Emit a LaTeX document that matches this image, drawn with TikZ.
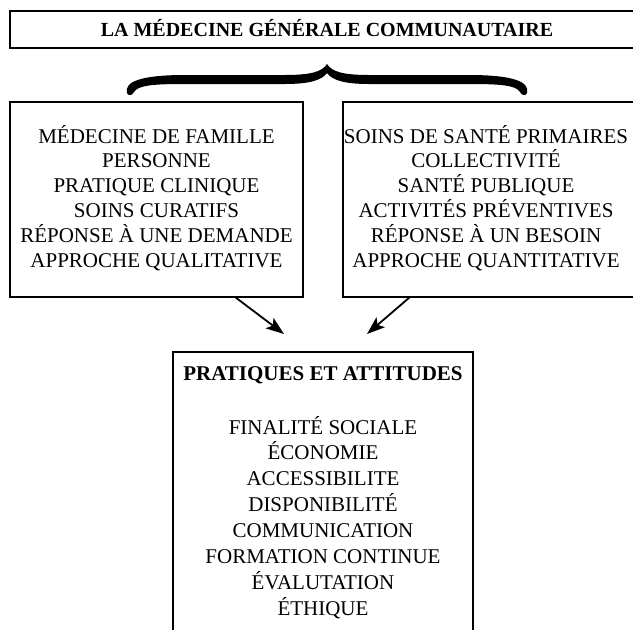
\documentclass[tikz,border=0pt]{standalone}
\usepackage{fontspec}
\setmainfont{Liberation Serif}
\usetikzlibrary{arrows.meta}
\begin{document}
\begin{tikzpicture}[x=1pt,y=-1pt,
  box/.style={draw, line width=1.2pt, inner sep=0pt, outer sep=0pt, anchor=north west},
  txt/.style={font=\fontsize{21}{25}\selectfont, anchor=base, inner sep=0pt},
  btxt/.style={font=\fontsize{21}{25}\selectfont\bfseries, anchor=base, inner sep=0pt},
  arr/.style={-{Stealth[length=18pt,width=13pt,inset=4pt]}, line width=1.8pt}]
\useasboundingbox (0,0) rectangle (633,630);
\clip (0,0) rectangle (633,630);
% boxes
\node[box, line width=2pt, minimum width=640pt, minimum height=37pt] (top) at (10,11) {};
\node[box, minimum width=293pt, minimum height=195pt] (lbox) at (10,102) {};
\node[box, minimum width=300pt, minimum height=195pt] (rbox) at (343,102) {};
\node[box, minimum width=300pt, minimum height=300pt] (bbox) at (173,352) {};
% title
\node[btxt, font=\fontsize{20}{25}\selectfont\bfseries] (title) at (327,36) {LA MÉDECINE GÉNÉRALE COMMUNAUTAIRE};
% brace
\fill (127,93) .. controls (124,82) and (140,75) .. (185,75) -- (285,75)
  .. controls (310,75) and (322,72) .. (327,64)
  .. controls (332,72) and (344,75) .. (369,75) -- (469,75)
  .. controls (514,75) and (530,82) .. (527,93)
  .. controls (526,96) and (522,96) .. (520,92)
  .. controls (516,85) and (499,84) .. (469,84) -- (369,84)
  .. controls (344,84) and (332,80) .. (327,73)
  .. controls (322,80) and (310,84) .. (285,84) -- (185,84)
  .. controls (155,84) and (138,85) .. (134,92)
  .. controls (132,96) and (128,96) .. (127,93) -- cycle;
% left texts
\foreach \t [count=\i] in {MÉDECINE DE FAMILLE, PERSONNE, PRATIQUE CLINIQUE, SOINS CURATIFS, RÉPONSE À UNE DEMANDE, APPROCHE QUALITATIVE}
  \node[txt] (l\i) at (156.5,{143+24.9*(\i-1)}) {\t};
% right texts
\foreach \t [count=\i] in {SOINS DE SANTÉ PRIMAIRES, COLLECTIVITÉ, SANTÉ PUBLIQUE, ACTIVITÉS PRÉVENTIVES, RÉPONSE À UN BESOIN, APPROCHE QUANTITATIVE}
  \node[txt] (r\i) at (486,{143+24.9*(\i-1)}) {\t};
% bottom texts
\node[btxt] (btitle) at (323,380) {PRATIQUES ET ATTITUDES};
\foreach \t [count=\i] in {FINALITÉ SOCIALE, ÉCONOMIE, ACCESSIBILITE, DISPONIBILITÉ, COMMUNICATION, FORMATION CONTINUE, ÉVALUTATION, ÉTHIQUE}
  \node[txt] (b\i) at (323,{434+25.9*(\i-1)}) {\t};
% arrows
\coordinate (a1s) at (235,297);
\coordinate (a1e) at (284,334);
\coordinate (a2s) at (410,297);
\coordinate (a2e) at (367,334);
\draw[arr] (a1s) -- (a1e);
\draw[arr] (a2s) -- (a2e);
\end{tikzpicture}
\end{document}
